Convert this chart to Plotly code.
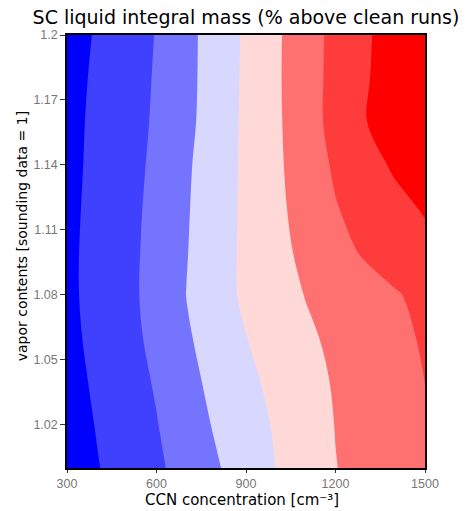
import plotly.graph_objects as go

# CCN concentration [cm^-3]
ccn = [300, 400, 500, 600, 700, 800, 900, 1000, 1100, 1200, 1300, 1400, 1500]
# vapor contents [sounding data = 1]
vapor = [1.00, 1.02, 1.04, 1.06, 1.08, 1.10, 1.12, 1.14, 1.16, 1.18, 1.20]

# SC liquid integral mass (% above clean runs), rows follow `vapor`
z_100 = [5.1, 9.5, 14.0, 18.4, 23.6, 29.1, 34.6, 40.1, 45.0, 49.8, 52.4, 54.9, 57.3]
z_102 = [5.8, 10.4, 15.0, 19.6, 25.4, 31.0, 36.0, 40.9, 45.7, 50.2, 52.9, 55.7, 58.4]
z_104 = [6.7, 11.4, 16.0, 20.9, 27.1, 32.7, 37.8, 42.4, 46.8, 50.8, 53.9, 57.0, 60.1]
z_106 = [7.6, 12.3, 17.1, 22.4, 28.8, 34.4, 39.8, 44.1, 48.4, 51.9, 54.9, 57.9, 60.9]
z_108 = [8.1, 12.8, 17.6, 23.3, 30.1, 36.2, 41.6, 46.0, 50.3, 53.3, 56.3, 59.3, 62.3]
z_110 = [8.1, 12.8, 17.5, 23.0, 29.6, 35.9, 41.8, 47.1, 52.2, 57.0, 61.1, 64.1, 67.1]
z_112 = [7.8, 12.5, 17.1, 22.6, 29.2, 35.6, 41.8, 47.8, 53.7, 59.5, 63.4, 67.2, 70.9]
z_114 = [7.5, 12.1, 16.7, 21.9, 28.7, 35.3, 41.7, 48.2, 54.9, 61.3, 66.2, 71.4, 77.4]
z_116 = [7.3, 11.8, 16.3, 21.2, 27.7, 34.7, 41.8, 48.4, 55.8, 63.0, 69.6, 76.3, 82.9]
z_118 = [6.8, 11.4, 16.0, 20.8, 27.4, 34.4, 41.6, 48.6, 55.9, 62.8, 69.0, 75.3, 81.5]
z_120 = [6.0, 10.8, 15.5, 20.4, 27.3, 34.3, 41.4, 48.5, 55.8, 62.6, 68.6, 74.7, 80.8]

mass = [z_100, z_102, z_104, z_106, z_108, z_110, z_112, z_114, z_116, z_118, z_120]

x_ticks = [300, 600, 900, 1200, 1500]
y_ticks = [1.02, 1.05, 1.08, 1.11, 1.14, 1.17, 1.2]
y_ticklabels = ["1.02", "1.05", "1.08", "1.11", "1.14", "1.17", "1.2"]

band_colors = ["rgb(0,0,255)", "rgb(64,64,255)", "rgb(116,116,255)", "rgb(216,216,255)",
               "rgb(255,216,216)", "rgb(255,112,112)", "rgb(255,60,60)", "rgb(255,0,0)"]
colorscale = [[i / 7, c] for i, c in enumerate(band_colors)]

fig = go.Figure(go.Contour(
    x=ccn, y=vapor, z=mass,
    colorscale=colorscale,
    autocontour=False,
    contours=dict(start=10, end=70, size=10, coloring="fill", showlines=False),
    line=dict(width=0),
    showscale=False,
    hoverinfo="skip",
))

fig.update_xaxes(
    range=[300, 1500], tickvals=x_ticks, ticktext=[str(v) for v in x_ticks],
    ticks="outside", ticklen=3, tickcolor="#333",
    tickfont=dict(family="Liberation Sans", size=12.5, color="#777"),
    showline=True, linecolor="black", linewidth=1.5, mirror=True,
    showgrid=False, zeroline=False,
)
fig.update_yaxes(
    range=[1.0, 1.2], tickvals=y_ticks, ticktext=y_ticklabels,
    ticks="outside", ticklen=5, tickcolor="#333",
    tickfont=dict(family="Liberation Sans", size=12.5, color="#777"),
    showline=True, linecolor="black", linewidth=1.5, mirror=True,
    showgrid=False, zeroline=False,
)

# plot box at x 67..425, y 35..468 of the 475x511 page
fig.update_layout(
    width=475, height=511,
    margin=dict(l=67, r=50, t=35, b=43, pad=0),
    paper_bgcolor="white", plot_bgcolor="white",
    showlegend=False,
    title=dict(text="SC liquid integral mass (% above clean runs)",
               x=246 / 475, xanchor="center", y=1 - 17.5 / 511, yanchor="middle",
               font=dict(family="DejaVu Sans", size=19, color="black")),
    annotations=[
        dict(text="CCN concentration [cm⁻³]", xref="paper", yref="paper",
             x=0.489, y=-0.073, xanchor="center", yanchor="middle", showarrow=False,
             font=dict(family="DejaVu Sans", size=15, color="black")),
        dict(text="vapor contents [sounding data = 1]", xref="paper", yref="paper",
             x=-0.1257, y=0.535, xanchor="center", yanchor="middle", showarrow=False,
             textangle=-90,
             font=dict(family="DejaVu Sans", size=14, color="black")),
    ],
)

fig.write_html("out.html", config={"displayModeBar": False},
               post_script="document.body.style.margin='0px';")
